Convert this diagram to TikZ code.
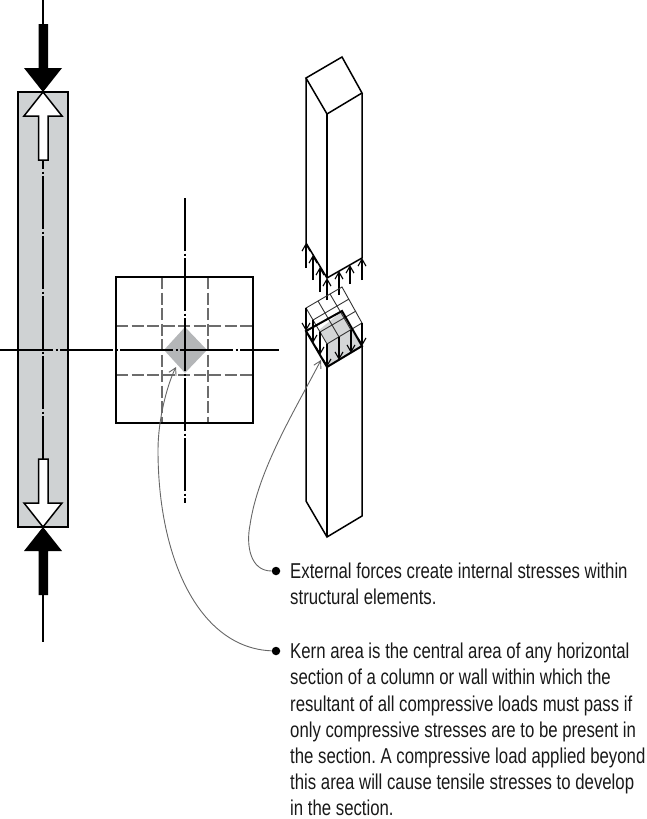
\documentclass[tikz,border=0pt]{standalone}
\usepackage{fontspec}
\setmainfont{Liberation Sans}[FakeStretch=0.78]
\usetikzlibrary{arrows.meta}
\definecolor{columngrey}{HTML}{CFD2D3}
\definecolor{kerngrey}{HTML}{B4B6B8}
\definecolor{blockgrey}{HTML}{D4D6D7}
\frenchspacing

\begin{document}
\begin{tikzpicture}[x=1pt, y=-1pt,
    >={Straight Barb[length=7pt,width=8pt]},
    outline/.style={black, line width=2pt},
    edgeline/.style={black, line width=1.5pt},
    thinline/.style={black!80, line width=0.9pt},
    centerline/.style={black, line width=1.6pt, dash pattern=on 53pt off 2.5pt on 2pt off 2.5pt},
    sectionline/.style={gray!85!black, line width=1.3pt, dash pattern=on 12pt off 3.5pt},
    stress/.style={->, black, line width=1.1pt},
    leader/.style={gray!80!black, line width=0.9pt},
    bullet/.style={circle, fill=black, inner sep=0pt, minimum size=8.5pt},
    note/.style={anchor=north west, align=left, inner sep=0pt,
        font=\fontsize{21.5}{26.2}\selectfont, text=black!90}]
    \useasboundingbox (0,0) rectangle (647,819);

    % Elevation of the column
    \filldraw[outline, fill=columngrey] (18,92) rectangle (68,527);
    \draw[black, line width=1.2pt, dash pattern=on 53pt off 2.5pt on 2pt off 2.5pt] (43,116) -- (43,502);

    % External loads
    \draw[black, line width=1.4pt] (43,0) -- (43,30);
    \fill[black] (38.5,24) -- (48,24) -- (48,68) -- (62,68) -- (43,92) -- (24,68) -- (38.5,68) -- cycle;
    \draw[black, line width=1.4pt] (43,590) -- (43,642);
    \fill[black] (38.5,595) -- (48,595) -- (48,551) -- (62,551) -- (43,527) -- (24,551) -- (38.5,551) -- cycle;

    % Internal stresses
    \filldraw[edgeline, fill=white] (38.5,160) -- (48,160) -- (48,116) -- (62,116) -- (43,92) -- (24,116) -- (38.5,116) -- cycle;
    \filldraw[edgeline, fill=white] (38.5,459) -- (48,459) -- (48,503) -- (62,503) -- (43,527) -- (24,503) -- (38.5,503) -- cycle;

    % Plan of the section with the kern area
    \fill[kerngrey] (185,327) -- (207,350) -- (185,373) -- (164,350) -- cycle;
    \draw[sectionline] (162,277) -- (162,423);
    \draw[sectionline] (208,277) -- (208,423);
    \draw[sectionline] (116,326) -- (253,326);
    \draw[sectionline] (116,375) -- (253,375);
    \draw[outline] (116,277) rectangle (253,423);
    \draw[centerline] (0,350) -- (279,350);
    \draw[centerline] (185,198) -- (185,503);

    % Upper part of the cut column
    \draw[edgeline] (306,78) -- (342,57) -- (362,93) -- (327,114) -- cycle;
    \draw[edgeline] (306,78) -- (306,243) -- (327,278) -- (362,258) -- (362,93);
    \draw[edgeline] (327,114) -- (327,278);
    \draw[stress] (306,268) -- (306,243);
    \draw[stress] (313,280) -- (313,255);
    \draw[stress] (320,292) -- (320,267);
    \draw[stress] (327,300) -- (327,278);
    \draw[stress] (339,295) -- (339,271);
    \draw[stress] (350,284) -- (350,265);
    \draw[stress] (362,280) -- (362,258);

    % Lower part, grey stress block on the section
    \fill[blockgrey] (319,330) -- (342,311) -- (362,346) -- (327,367) -- (327,344) -- cycle;
    \draw[edgeline] (306,331) -- (306,501) -- (327,537) -- (362,516) -- (362,346);
    \draw[edgeline] (327,367) -- (327,537);

    % Grid of the stress surface
    \draw[thinline] (306,308) -- (342,287) -- (362,323) -- (327,344) -- cycle;
    \draw[thinline] (313,320) -- (349,299);
    \draw[thinline] (320,332) -- (356,311);
    \draw[thinline] (318,301) -- (339,337);
    \draw[thinline] (330,294) -- (351,330);

    \draw[outline] (306,331) -- (342,311) -- (362,346) -- (327,367) -- cycle;
    \draw[stress] (306,308) -- (306,331);
    \draw[stress] (313,320) -- (313,343);
    \draw[stress] (320,332) -- (320,355);
    \draw[stress] (327,344) -- (327,367);
    \draw[stress] (339,337) -- (339,360);
    \draw[stress] (351,330) -- (351,353);
    \draw[stress] (362,323) -- (362,346);

    % Notes and leaders
    \node[bullet] (dotforces) at (276,571) {};
    \node[bullet] (dotkern) at (276,651) {};
    \node[note] (textforces) at (290,563) {External forces create internal stresses within\\structural elements.};
    \node[note] (textkern) at (290,643) {Kern area is the central area of any horizontal\\section of a column or wall within which the\\resultant of all compressive loads must pass if\\only compressive stresses are to be present in\\the section. A compressive load applied beyond\\this area will cause tensile stresses to develop\\in the section.};
    \coordinate (stresstip) at (321,360);
    \coordinate (kerntip) at (176,367);
    \draw[leader, ->] (dotforces) .. controls (250,571) and (246,545) .. (250,525) .. controls (258,470) and (295,410) .. (stresstip);
    \draw[leader, ->] (dotkern) .. controls (200,648) and (158,560) .. (158,450) .. controls (158,420) and (167,385) .. (kerntip);
\end{tikzpicture}
\end{document}
